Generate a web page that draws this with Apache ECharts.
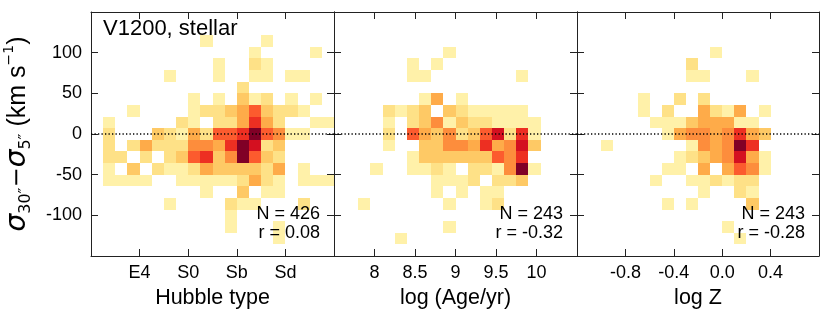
<!DOCTYPE html>
<html>
<head>
<meta charset="utf-8">
<script src="https://cdn.jsdelivr.net/npm/echarts@6/dist/echarts.min.js"></script>
<style>
  html, body { margin: 0; padding: 0; background: #fff; }
  #chart { width: 830px; height: 320px; }
</style>
</head>
<body>
<div id="chart"></div>
<script>
// velocity bins shared by all three panels (rows listed from +150 down to -150)
const velMin = -150, velMax = 150, velBins = 21;
const velStep = (velMax - velMin) / velBins;

// panel 1: Hubble type, 20 bins of 1 type
const hubbleRange = [0, 20];
const hubbleStep = 1;
const hubbleTickPos = [4, 8, 12, 16];
const hubbleTickLabels = ['E4', 'S0', 'Sb', 'Sd'];
const hubbleCounts = [
  [0,0,0,0,0,0,0,0,0,0,0,0,0,0,0,0,0,0,0,0],
  [0,0,0,0,0,0,0,0,0,0,0,0,0,0,0,0,0,0,0,0],
  [0,0,0,0,0,0,0,0,0,1,0,0,0,0,1,0,0,0,0,0],
  [0,0,0,0,0,0,0,0,0,0,0,0,0,1,0,0,0,0,1,0],
  [0,0,0,0,0,0,0,0,0,0,1,0,0,2,1,0,0,0,0,0],
  [0,0,0,0,0,0,1,0,0,0,1,0,0,1,1,0,1,1,0,0],
  [0,0,0,0,0,0,0,0,0,0,0,0,2,0,0,0,0,0,0,0],
  [0,0,0,0,0,0,0,0,1,0,1,0,3,1,2,0,1,0,1,0],
  [0,0,0,1,0,0,0,0,1,2,2,3,4,6,3,2,2,1,0,0],
  [0,1,0,0,0,0,0,2,1,0,2,2,4,7,4,2,0,0,1,1],
  [0,2,0,0,0,3,2,1,4,2,6,6,7,10,6,5,1,1,0,0],
  [0,2,0,2,4,2,2,2,5,5,4,7,10,8,2,3,0,0,0,0],
  [0,2,2,0,2,0,2,3,6,7,3,5,10,6,3,2,0,0,0,0],
  [0,1,0,3,0,2,1,1,2,4,3,3,3,3,2,4,0,1,0,0],
  [0,1,1,1,1,0,0,1,1,1,1,1,2,4,2,1,0,1,1,1],
  [0,0,0,0,0,0,0,0,0,1,0,0,3,0,1,1,0,0,0,0],
  [0,0,0,0,0,0,1,0,0,0,0,2,1,1,0,0,0,2,0,0],
  [0,0,0,0,0,0,0,0,0,0,0,1,0,0,0,0,0,0,0,0],
  [0,0,0,0,0,0,0,0,0,0,0,1,0,0,0,1,0,0,0,0],
  [0,0,0,0,0,0,0,0,0,0,0,0,0,0,0,1,0,0,0,0],
  [0,0,0,0,0,0,0,0,0,0,0,0,0,0,0,0,0,0,0,0]
];

// panel 2: log age, 20 bins of 0.15 dex
const ageRange = [7.5, 10.5];
const ageStep = 0.15;
const ageCounts = [
  [0,0,0,0,0,0,0,0,0,0,0,0,0,0,0,0,0,0,0,0],
  [0,0,0,0,0,0,0,0,0,0,0,0,0,0,0,0,0,0,0,0],
  [0,0,0,0,0,0,0,0,0,0,0,0,0,0,0,0,0,0,0,0],
  [0,0,0,0,0,0,0,0,0,1,0,0,0,0,0,0,0,0,0,0],
  [0,0,0,0,0,0,1,0,1,0,0,0,0,0,0,0,0,0,0,0],
  [0,0,0,0,0,0,1,1,0,0,0,0,0,0,0,1,0,0,0,0],
  [0,0,0,0,0,0,0,0,0,0,0,0,0,0,0,0,0,0,0,0],
  [0,0,0,0,0,0,0,1,4,0,1,0,0,0,0,0,0,0,0,0],
  [0,0,0,0,2,1,2,3,0,3,2,1,1,1,1,1,0,0,0,0],
  [0,0,0,0,1,0,2,3,5,1,3,2,2,1,1,1,1,0,0,0],
  [0,0,0,0,2,0,6,4,3,5,2,3,6,8,2,7,1,0,0,0],
  [0,0,0,0,1,0,0,3,3,5,5,4,7,4,5,8,3,0,0,0],
  [0,0,0,0,0,0,1,3,3,3,3,3,3,6,5,7,0,0,0,0],
  [0,0,0,1,0,0,1,1,2,1,0,2,2,1,5,10,1,0,0,0],
  [0,0,0,0,0,0,0,0,1,1,1,2,0,2,2,3,0,0,0,0],
  [0,0,0,0,0,0,0,0,1,0,1,0,1,1,0,0,0,0,0,0],
  [0,0,1,0,0,0,0,0,0,1,0,0,1,2,0,0,0,0,0,0],
  [0,0,0,0,0,0,0,0,0,0,0,0,0,0,0,0,0,0,0,0],
  [0,0,0,0,0,0,0,0,0,1,0,0,0,0,0,0,0,0,0,0],
  [0,0,0,0,0,1,0,0,0,0,0,0,0,0,0,0,0,0,0,0],
  [0,0,0,0,0,0,0,0,0,0,0,0,0,0,0,0,0,0,0,0]
];

// panel 3: log Z, 20 bins of 0.1 dex
const metRange = [-1.2, 0.8];
const metStep = 0.1;
const metCounts = [
  [0,0,0,0,0,0,0,0,0,0,0,0,0,0,0,0,0,0,0,0],
  [0,0,0,0,0,0,0,0,0,0,0,0,0,0,0,0,0,0,0,0],
  [0,0,0,0,0,0,0,0,0,0,0,0,0,0,0,0,0,0,0,0],
  [0,0,0,0,0,0,0,0,0,0,0,1,0,0,0,0,0,0,0,0],
  [0,0,0,0,0,0,0,0,0,2,0,0,0,0,0,0,0,0,0,0],
  [0,0,0,0,0,0,0,0,0,1,1,0,0,0,1,0,0,0,0,0],
  [0,0,0,0,0,0,0,0,0,0,0,0,0,0,0,0,0,0,0,0],
  [0,0,0,0,0,1,0,0,2,0,2,0,0,0,0,0,0,0,0,0],
  [0,0,0,0,0,1,0,2,0,0,4,2,1,4,0,1,0,0,0,0],
  [0,0,0,0,0,0,1,1,1,3,4,4,4,1,1,0,0,0,0,0],
  [0,0,0,0,0,0,0,1,4,5,5,4,5,7,4,3,0,0,0,0],
  [0,0,1,0,0,0,0,0,0,1,5,4,5,10,7,0,0,0,0,0],
  [0,0,0,0,0,0,0,0,1,2,3,4,5,8,4,1,0,0,0,0],
  [0,0,0,0,0,0,0,1,1,0,4,0,4,6,5,1,0,0,0,0],
  [0,0,0,0,0,0,1,0,0,1,1,2,1,2,2,0,0,0,0,0],
  [0,0,0,0,0,0,0,0,0,0,1,0,0,2,1,0,0,0,0,0],
  [0,0,0,0,0,0,0,1,0,1,0,0,0,0,3,0,0,0,0,0],
  [0,0,0,0,0,0,0,0,0,0,0,0,0,0,0,0,0,0,0,0],
  [0,0,0,0,0,0,0,0,0,0,0,0,1,0,0,0,0,0,0,0],
  [0,0,0,0,0,0,0,0,0,0,0,0,0,1,0,0,0,0,0,0],
  [0,0,0,0,0,0,0,0,0,0,0,0,0,0,0,0,0,0,0,0]
];

const sampleN = [426, 243, 243];
const sampleR = ['0.08', '-0.32', '-0.28'];

const ylorrd = ['#ffffcc', '#ffeda0', '#fed976', '#feb24c', '#fd8d3c', '#fc4e2a', '#e31a1c', '#bd0026', '#800026'];
const font = 'Liberation Sans, Arial, Helvetica, sans-serif';
const ink = '#000';
const frame = '#222';

function cells(matrix, xMin, dx) {
  const out = [];
  matrix.forEach(function (row, r) {
    row.forEach(function (n, c) {
      if (n > 0) out.push([xMin + c * dx, velMax - (r + 1) * velStep, n]);
    });
  });
  return out;
}

function cellRenderer(dx) {
  return function (params, api) {
    const x = api.value(0), y = api.value(1);
    const a = api.coord([x, y + velStep]);
    const b = api.coord([x + dx, y]);
    const x0 = Math.round(a[0]), y0 = Math.round(a[1]);
    const x1 = Math.round(b[0]), y1 = Math.round(b[1]);
    return {
      type: 'rect',
      shape: { x: x0, y: y0, width: x1 - x0, height: y1 - y0 },
      style: { fill: api.visual('color') }
    };
  };
}

const panels = [
  { left: 91, width: 243, range: hubbleRange, step: hubbleStep, interval: 4, counts: hubbleCounts,
    name: 'Hubble type',
    fmt: function (v) { const i = hubbleTickPos.indexOf(v); return i >= 0 ? hubbleTickLabels[i] : ''; } },
  { left: 334, width: 243, range: ageRange, step: ageStep, interval: 0.5, counts: ageCounts,
    name: 'log (Age/yr)',
    fmt: function (v) { return (v < 7.9 || v > 10.1) ? '' : String(v); } },
  { left: 577, width: 242, range: metRange, step: metStep, interval: 0.4, counts: metCounts,
    name: 'log Z',
    fmt: function (v) { return (v < -1.0 || v > 0.6) ? '' : v.toFixed(1); } }
];

const grids = [], xAxes = [], yAxes = [], series = [], graphics = [];

panels.forEach(function (p, i) {
  grids.push({ left: p.left, top: 12, width: p.width, height: 244 });
  const tick = { show: true, inside: true, length: 7, lineStyle: { color: frame, width: 1 } };
  const line = { show: true, onZero: false, lineStyle: { color: frame, width: 1 } };
  const xBase = {
    type: 'value', gridIndex: i, min: p.range[0], max: p.range[1], interval: p.interval,
    axisLine: line, axisTick: tick, splitLine: { show: false }
  };
  xAxes.push(Object.assign({}, xBase, {
    position: 'bottom',
    axisLabel: { formatter: p.fmt, fontSize: 18, color: ink, fontFamily: font, margin: 8 },
    name: p.name, nameLocation: 'middle', nameGap: 28,
    nameTextStyle: { fontSize: 21.5, color: ink, fontFamily: font }
  }));
  xAxes.push(Object.assign({}, xBase, { position: 'top', axisLabel: { show: false } }));

  const yBase = {
    type: 'value', gridIndex: i, min: velMin, max: velMax, interval: 50,
    axisLine: line, axisTick: tick, splitLine: { show: false }
  };
  const yLeft = Object.assign({}, yBase, {
    position: 'left',
    axisLabel: {
      show: i === 0, fontSize: 18, color: ink, fontFamily: font, margin: 9,
      formatter: function (v) { return Math.abs(v) > 100 ? '' : String(v); }
    }
  });
  if (i === 0) {
    Object.assign(yLeft, {
      name: '{g|σ}{s|30″}{m|−}{g|σ}{s|5″}{t| (km s}{p|−1}{t|)}',
      nameLocation: 'middle', nameRotate: 90, nameGap: 57,
      nameTextStyle: {
        color: ink,
        rich: {
          g: { fontFamily: 'DejaVu Sans', fontStyle: 'italic', fontSize: 28, lineHeight: 32, color: ink },
          s: { fontFamily: 'DejaVu Sans', fontSize: 16, lineHeight: 10, verticalAlign: 'bottom', color: ink },
          m: { fontFamily: 'DejaVu Sans', fontSize: 24, lineHeight: 32, color: ink },
          t: { fontFamily: font, fontSize: 25, lineHeight: 32, color: ink },
          p: { fontFamily: 'DejaVu Sans', fontSize: 14, lineHeight: 20, verticalAlign: 'top', color: ink }
        }
      }
    });
  }
  yAxes.push(yLeft);
  yAxes.push(Object.assign({}, yBase, { position: 'right', axisLabel: { show: false } }));

  series.push({
    type: 'custom', xAxisIndex: 2 * i, yAxisIndex: 2 * i,
    data: cells(p.counts, p.range[0], p.step),
    encode: { x: 0, y: 1 },
    renderItem: cellRenderer(p.step),
    silent: true, z: 2
  });

  const right = p.left + p.width - 14;
  graphics.push({
    type: 'text', right: 830 - right, top: 205,
    style: { text: 'N = ' + sampleN[i], font: '18px ' + font, fill: ink, textAlign: 'right' }, z: 10
  });
  graphics.push({
    type: 'text', right: 830 - right, top: 224,
    style: { text: 'r = ' + sampleR[i], font: '18px ' + font, fill: ink, textAlign: 'right' }, z: 10
  });
});

// dotted zero lines drawn on top of the cells
panels.forEach(function (p, i) {
  series.push({
    type: 'line', xAxisIndex: 2 * i, yAxisIndex: 2 * i,
    data: [[p.range[0], 0], [p.range[1], 0]],
    symbol: 'none', silent: true, z: 5,
    lineStyle: { color: '#000', width: 1.3, type: [1.3, 2.2] }
  });
});

graphics.push({
  type: 'text', left: 103, top: 18,
  style: { text: 'V1200, stellar', font: '22px ' + font, fill: ink }, z: 10
});

const chart = echarts.init(document.getElementById('chart'), null, { renderer: 'canvas' });
chart.setOption({
  animation: false,
  backgroundColor: '#fff',
  grid: grids,
  xAxis: xAxes,
  yAxis: yAxes,
  visualMap: {
    type: 'continuous', show: false, min: 0, max: 10, dimension: 2,
    seriesIndex: [0, 1, 2], inRange: { color: ylorrd }
  },
  graphic: graphics,
  series: series
});
</script>
</body>
</html>
